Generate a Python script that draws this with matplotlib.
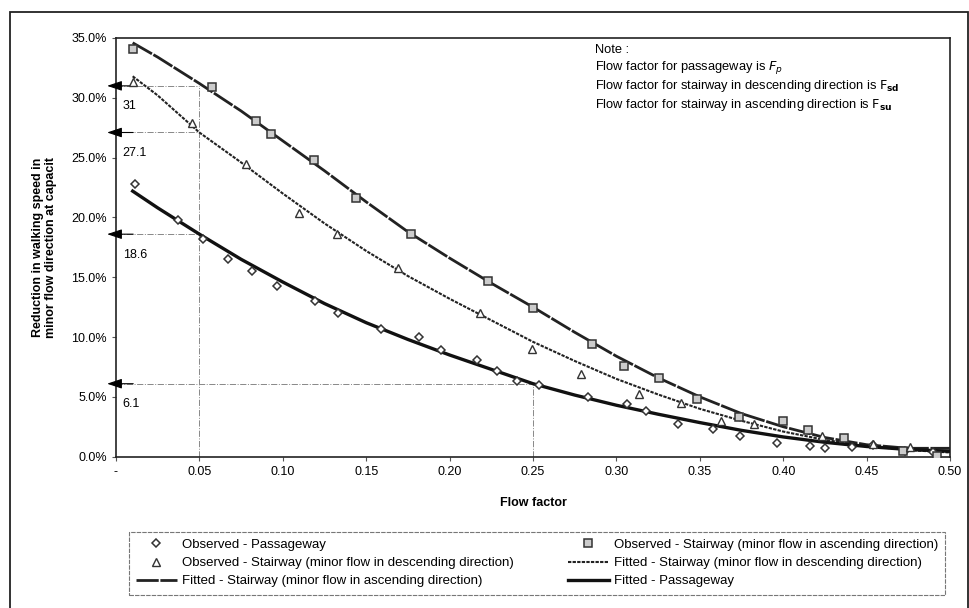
import matplotlib.pyplot as plt
from matplotlib.patches import Rectangle
import numpy as np

plt.rcParams['font.family'] = ['Liberation Sans', 'DejaVu Sans']

# Observed points (flow factor, reduction in %)
pass_x = [0.0114, 0.0374, 0.0523, 0.0673, 0.0815, 0.0963, 0.1193, 0.1329, 0.159, 0.1815,
          0.1948, 0.2162, 0.2282, 0.2404, 0.2537, 0.2832, 0.3062, 0.318, 0.3371, 0.3577,
          0.374, 0.396, 0.416, 0.425, 0.441, 0.454, 0.473, 0.49]
pass_y = [22.8, 19.8, 18.2, 16.5, 15.5, 14.25, 13.0, 12.0, 10.7, 10.0,
          8.9, 8.05, 7.2, 6.3, 5.95, 5.0, 4.4, 3.8, 2.75, 2.3,
          1.75, 1.15, 0.92, 0.75, 0.8, 0.95, 0.5, 0.4]

asc_x = [0.0104, 0.0576, 0.0839, 0.093, 0.1185, 0.1437, 0.1767, 0.2228, 0.2498, 0.2856,
         0.3046, 0.3255, 0.3481, 0.3735, 0.400, 0.4147, 0.4366, 0.472, 0.492]
asc_y = [34.1, 30.9, 28.1, 27.0, 24.8, 21.6, 18.6, 14.7, 12.45, 9.42,
         7.6, 6.6, 4.85, 3.3, 3.0, 2.25, 1.6, 0.45, 0.05]

desc_x = [0.0102, 0.0456, 0.078, 0.1099, 0.1327, 0.1689, 0.2184, 0.2492, 0.2786, 0.3137,
          0.3385, 0.3625, 0.3825, 0.423, 0.454, 0.476]
desc_y = [31.3, 27.9, 24.5, 20.4, 18.6, 15.8, 12.0, 9.0, 6.9, 5.2,
          4.5, 3.0, 2.7, 1.7, 1.05, 0.8]

# Fitted curves
fit_x = [0.01, 0.025, 0.05, 0.075, 0.10, 0.125, 0.15, 0.175, 0.20, 0.225, 0.25,
         0.275, 0.30, 0.325, 0.35, 0.375, 0.40, 0.425, 0.45, 0.475, 0.50]
fit_asc = [34.6, 33.4, 31.2, 28.9, 26.4, 23.9, 21.3, 18.8, 16.6, 14.5, 12.5,
           10.4, 8.4, 6.6, 5.0, 3.6, 2.5, 1.6, 1.0, 0.7, 0.7]
fit_desc = [31.8, 30.2, 27.1, 24.6, 22.0, 19.5, 17.2, 15.1, 13.2, 11.4, 9.6,
            8.0, 6.5, 5.2, 4.0, 3.0, 2.1, 1.4, 0.9, 0.55, 0.35]
fit_pass = [22.2, 20.8, 18.6, 16.5, 14.6, 12.8, 11.2, 9.8, 8.5, 7.3, 6.1,
            5.15, 4.3, 3.55, 2.85, 2.2, 1.65, 1.2, 0.85, 0.6, 0.45]

# Reference readings
ref_x = [0.05, 0.05, 0.05, 0.25]
ref_y = [31, 27.1, 18.6, 6.1]
ref_labels = ['31', '27.1', '18.6', '6.1']

x_ticks = [0, 0.05, 0.10, 0.15, 0.20, 0.25, 0.30, 0.35, 0.40, 0.45, 0.50]
x_tick_labels = ['-', '0.05', '0.10', '0.15', '0.20', '0.25', '0.30', '0.35', '0.40', '0.45', '0.50']
y_ticks = [0, 5, 10, 15, 20, 25, 30, 35]

fig = plt.figure(figsize=(9.69, 6.08), dpi=100)
ax = fig.add_axes([0.1197, 0.2489, 0.8607, 0.6886])

# grey reference lines
for rx, ry in zip(ref_x, ref_y):
    ax.plot([0, rx], [ry, ry], color='#888888', lw=0.7, ls='-.', zorder=1)
for rx in sorted(set(ref_x)):
    top = max(ry for xx, ry in zip(ref_x, ref_y) if xx == rx)
    ax.plot([rx, rx], [0, top], color='#888888', lw=0.7, ls='-.', zorder=1)

# fitted lines
l_asc, = ax.plot(fit_x, fit_asc, color='#222222', lw=2.0, ls=(0, (8, 0.6)), zorder=3)
l_desc, = ax.plot(fit_x, fit_desc, color='#222222', lw=1.5, ls=(0, (1.6, 0.6)), zorder=3)
l_pass, = ax.plot(fit_x, fit_pass, color='#111111', lw=2.4, ls='-', zorder=3)

# observed points
m_pass, = ax.plot(pass_x, pass_y, ls='none', marker='D', ms=4, mfc='white',
                  mec='#333333', mew=1.1, zorder=4)
m_asc, = ax.plot(asc_x, asc_y, ls='none', marker='s', ms=5.5, mfc='#cccccc',
                 mec='#333333', mew=1.1, zorder=4)
m_desc, = ax.plot(desc_x, desc_y, ls='none', marker='^', ms=5.5, mfc='white',
                  mec='#333333', mew=1.0, zorder=4)

# arrows and labels at the y axis
for ry, lab in zip(ref_y, ref_labels):
    ax.annotate('', xy=(-0.007, ry), xytext=(0.012, ry),
                arrowprops=dict(arrowstyle='-|>,head_length=0.9,head_width=0.3',
                                color='black', lw=0.8), annotation_clip=False)
    ax.text(0.004, ry - 1.2, lab, fontsize=9, va='top', ha='left')

ax.set_xlim(0, 0.5)
ax.set_ylim(0, 35)
ax.set_xticks(x_ticks)
ax.set_xticklabels(x_tick_labels, fontsize=9)
ax.set_yticks(y_ticks)
ax.set_yticklabels(['%.1f%%' % v for v in y_ticks], fontsize=9)
ax.tick_params(direction='out', length=3, width=0.8, color='#555555')
for s in ax.spines.values():
    s.set_linewidth(1.2)
    s.set_color('#222222')

ax.set_xlabel('Flow factor', fontsize=9, fontweight='bold', labelpad=14)
ax.set_ylabel('Reduction in walking speed in\nminor flow direction at capacit',
              fontsize=9, fontweight='bold', labelpad=10)

note = ('Note :\n'
        'Flow factor for passageway is $F_p$\n'
        r'Flow factor for stairway in descending direction is $\mathrm{F}_{\mathbf{sd}}$' + '\n'
        r'Flow factor for stairway in ascending direction is $\mathrm{F}_{\mathbf{su}}$')
ax.text(0.287, 34.5, note, fontsize=9.3, va='top', ha='left', linespacing=1.25)

handles = [m_pass, m_desc, l_asc, m_asc, l_desc, l_pass]
labels = ['Observed - Passageway',
          'Observed - Stairway (minor flow in descending direction)',
          'Fitted - Stairway (minor flow in ascending direction)',
          'Observed - Stairway (minor flow in ascending direction)',
          'Fitted - Stairway (minor flow in descending direction)',
          'Fitted - Passageway']
leg = fig.legend(handles, labels, ncol=2, loc='upper left',
                 bbox_to_anchor=(122 / 969, 1 - 592 / 608, (952 - 122) / 969, (592 - 525) / 608),
                 mode='expand', fontsize=9.5, frameon=True, fancybox=False,
                 edgecolor='#555555', handlelength=3.1, borderpad=0.55,
                 labelspacing=0.45, handletextpad=0.4)
leg.get_frame().set_linewidth(0.8)
leg.get_frame().set_linestyle((0, (4, 1)))

# outer chart border
fig.patches.append(Rectangle((10 / 969, -0.01), 958 / 969, 1 - 12 / 608 + 0.01,
                             transform=fig.transFigure, fill=False,
                             edgecolor='#222222', lw=1.3))

fig.savefig('out.png', dpi=100)
